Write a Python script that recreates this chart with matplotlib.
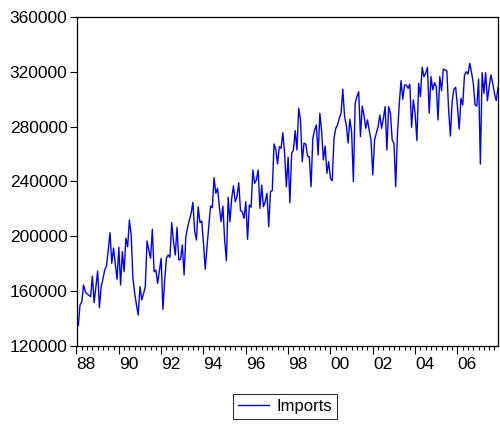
import numpy as np
import matplotlib
matplotlib.use("Agg")
import matplotlib.pyplot as plt
import matplotlib.transforms as mtransforms

# Monthly imports, 1988:01 - 2007:12
imports_1988_1991 = [143800, 134600, 150000, 152300, 164500, 159600, 158000, 157000, 156000, 171000, 151600, 163000,
                     174700, 148000, 163300, 169000, 175400, 178300, 190000, 202700, 180300, 191300, 180000, 168700,
                     192000, 164500, 188800, 174200, 198600, 192400, 211900, 201000, 169400, 158400, 150000, 142600,
                     163300, 153600, 158000, 163300, 196600, 190000, 184000, 205100, 174200, 175400, 165700, 175000]
imports_1992_1995 = [184000, 146800, 168100, 184000, 186400, 184700, 210000, 196100, 186400, 206600, 182700, 183200,
                     193700, 171800, 199800, 206600, 211900, 216800, 224800, 204100, 197300, 221600, 210000, 211200,
                     194900, 176000, 192400, 207500, 222100, 220900, 242800, 231400, 235000, 221600, 210700, 222100,
                     197300, 182200, 228500, 210700, 227700, 236900, 225200, 228900, 239100, 218700, 218000, 213100]
imports_1996_1999 = [225300, 197800, 222900, 221200, 248400, 238700, 241100, 248400, 220400, 237400, 221600, 225300,
                     231400, 207000, 232600, 233300, 267400, 263500, 252800, 265400, 264200, 275600, 260600, 236200,
                     257700, 224500, 260600, 263000, 277100, 263000, 293400, 284900, 254400, 267900, 267400, 258600,
                     258100, 236200, 271500, 277600, 281200, 259300, 289800, 276300, 255700, 265900, 246000, 254400]
imports_2000_2003 = [242300, 240600, 271500, 278800, 281200, 286100, 289800, 307300, 287300, 281200, 268000, 285400,
                     276300, 239900, 297000, 301900, 305500, 272700, 295100, 288500, 278800, 284900, 277100, 270300,
                     244700, 270300, 275200, 280000, 288500, 278800, 286100, 294600, 263000, 294600, 289800, 270300,
                     267900, 236200, 275000, 296000, 313500, 300000, 310400, 310400, 308000, 310900, 279500, 299500]
imports_2004_2007 = [289800, 269800, 311600, 301900, 323300, 316500, 318900, 323300, 289800, 316500, 306800, 312100,
                     309200, 284900, 316500, 306200, 322100, 321300, 320800, 292200, 273200, 298200, 307300, 308700,
                     294600, 278300, 300700, 295800, 317700, 320100, 318400, 326200, 319400, 311600, 295800, 295100,
                     314600, 252800, 319400, 304300, 319400, 298900, 309200, 317700, 311600, 304300, 298900, 308700]

start_year = 1988
label_years = [1988, 1990, 1992, 1994, 1996, 1998, 2000, 2002, 2004, 2006]
x_labels = ["88", "90", "92", "94", "96", "98", "00", "02", "04", "06"]
y_ticks = [120000, 160000, 200000, 240000, 280000, 320000, 360000]
series_name = "Imports"

values = np.array(imports_1988_1991 + imports_1992_1995 + imports_1996_1999
                  + imports_2000_2003 + imports_2004_2007, dtype=float)
t = start_year + np.arange(len(values)) / 12.0

plt.rcParams['font.family'] = ['Liberation Sans', 'DejaVu Sans']

fig = plt.figure(figsize=(5.0, 4.28), dpi=100)
ax = fig.add_axes([76.5 / 500, 1 - 346 / 428, (498 - 76.5) / 500, (346 - 17) / 428])

ax.plot(t, values, color='#0000ff', lw=1.0, label=series_name)

ax.set_xlim(t[0], t[-1])
ax.set_ylim(120000, 360000)

ax.set_yticks(y_ticks)
ax.set_yticklabels([str(v) for v in y_ticks], fontsize=12.5)
ax.tick_params(axis='y', direction='out', length=5, width=0.8, pad=1.5, colors='black')

ax.set_xticks(label_years)
ax.set_xticklabels([''] * len(label_years))
ax.set_xticks(np.arange(start_year, t[-1], 0.25), minor=True)
ax.tick_params(axis='x', which='major', direction='out', length=5.5, width=0.8)
ax.tick_params(axis='x', which='minor', direction='out', length=3, width=0.8)

trans = mtransforms.blended_transform_factory(ax.transData, ax.transAxes)
for yr, lab in zip(label_years, x_labels):
    ax.text(yr + 0.46, -11 / 329, lab, transform=trans, ha='center', va='top', fontsize=12.5)

for s in ax.spines.values():
    s.set_linewidth(0.9)
    s.set_color('black')

leg = fig.legend(loc='center', bbox_to_anchor=(285 / 500, 1 - 406.3 / 428), fontsize=12,
                 frameon=True, fancybox=False, edgecolor='black', handlelength=1.9,
                 handletextpad=0.45, borderpad=0.3)
leg.get_frame().set_linewidth(0.8)

fig.savefig("out.png", dpi=100)
